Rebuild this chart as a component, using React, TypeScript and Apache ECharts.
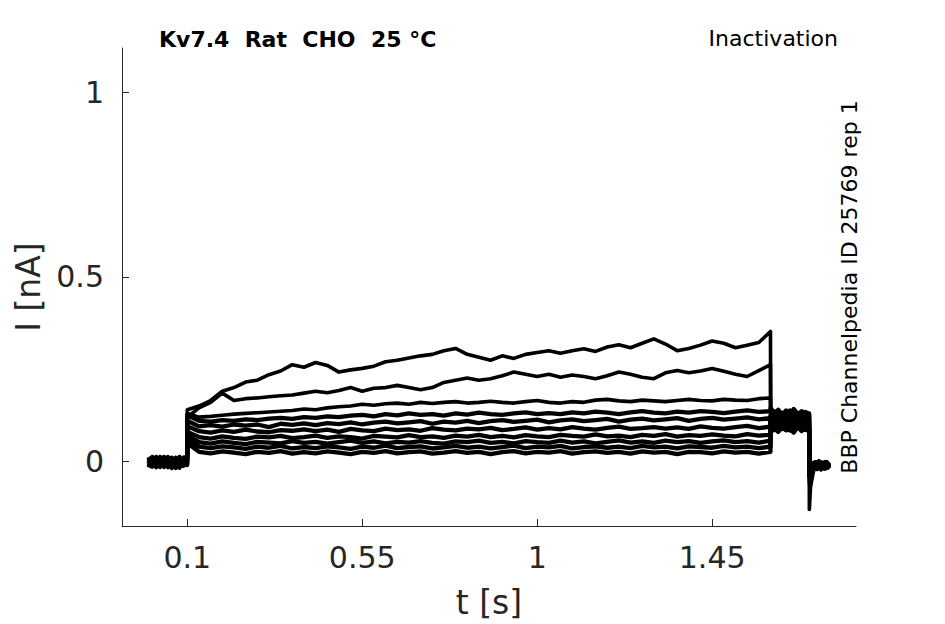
import React, { useEffect, useRef } from "react";
import * as echarts from "echarts";

// time samples (s)
const tPre = [0, 0.01, 0.02, 0.03, 0.04, 0.05, 0.06, 0.07, 0.08, 0.09, 0.0995];
const tPulse = [0.1, 0.13, 0.16, 0.19, 0.22, 0.25, 0.28, 0.31, 0.34, 0.37, 0.4, 0.43, 0.46, 0.49, 0.52, 0.55, 0.58, 0.61, 0.64, 0.67, 0.7, 0.73, 0.76, 0.79, 0.82, 0.85, 0.88, 0.91, 0.94, 0.97, 1, 1.03, 1.06, 1.09, 1.12, 1.15, 1.18, 1.21, 1.24, 1.27, 1.3, 1.33, 1.36, 1.39, 1.42, 1.45, 1.48, 1.51, 1.54, 1.57, 1.6];
const tTail = [1.6005, 1.61, 1.62, 1.63, 1.64, 1.65, 1.66, 1.67, 1.68, 1.69, 1.6995];
const tPost = [1.7, 1.703, 1.71, 1.715, 1.72, 1.725, 1.73, 1.735, 1.74, 1.745, 1.752];

// current (nA) per sweep
const preA = [-0.004, 0.008, -0.012, 0.004, -0.008, 0.01, -0.014, 0.002, -0.006, 0.008, 0.004];
const preB = [0.006, -0.01, 0.004, -0.016, 0.008, -0.004, 0.01, -0.012, 0.006, -0.008, -0.002];
const preC = [-0.012, 0.004, -0.008, 0.01, -0.016, 0.002, -0.006, 0.008, -0.018, 0.004, 0.008];
const preD = [0.01, -0.006, 0.012, -0.01, 0.002, -0.014, 0.006, -0.004, 0.01, -0.012, 0.01];
const preE = [-0.008, 0.012, -0.004, 0.006, -0.012, 0.008, -0.018, 0.004, -0.008, 0.006, -0.01];
const preF = [0.004, -0.014, 0.008, -0.002, 0.01, -0.016, 0.002, -0.008, 0.012, -0.006, 0.002];
const preG = [-0.016, 0.002, -0.01, 0.012, -0.004, 0.006, -0.012, 0.01, -0.014, 0.002, 0.006];
const preH = [0.012, -0.008, 0.002, -0.014, 0.006, -0.002, 0.01, -0.018, 0.004, -0.01, -0.008];
const preI = [-0.002, 0.01, -0.016, 0.004, -0.008, 0.012, -0.006, 0.002, -0.016, 0.01, 0.012];
const preJ = [-0.014, 0.002, 0.006, -0.01, 0.012, -0.006, 0.004, -0.014, 0.008, -0.004, -0.004];

const pulseA = [0.14, 0.15, 0.165, 0.19, 0.2, 0.215, 0.22, 0.235, 0.245, 0.262, 0.255, 0.268, 0.26, 0.242, 0.248, 0.252, 0.258, 0.27, 0.274, 0.28, 0.286, 0.29, 0.3, 0.306, 0.29, 0.282, 0.274, 0.286, 0.279, 0.29, 0.295, 0.3, 0.293, 0.3, 0.305, 0.298, 0.31, 0.316, 0.308, 0.32, 0.332, 0.318, 0.3, 0.306, 0.315, 0.326, 0.32, 0.308, 0.315, 0.322, 0.352];
const pulseB = [0.12, 0.145, 0.16, 0.185, 0.165, 0.17, 0.172, 0.175, 0.178, 0.18, 0.185, 0.19, 0.186, 0.192, 0.2, 0.19, 0.198, 0.2, 0.206, 0.2, 0.194, 0.2, 0.214, 0.22, 0.226, 0.22, 0.224, 0.232, 0.242, 0.236, 0.23, 0.236, 0.228, 0.234, 0.23, 0.224, 0.232, 0.242, 0.236, 0.228, 0.224, 0.24, 0.246, 0.24, 0.245, 0.252, 0.244, 0.236, 0.23, 0.246, 0.262];
const pulseC = [0.13, 0.12, 0.122, 0.125, 0.128, 0.13, 0.132, 0.134, 0.136, 0.138, 0.142, 0.14, 0.145, 0.148, 0.15, 0.155, 0.152, 0.156, 0.158, 0.155, 0.16, 0.157, 0.16, 0.162, 0.158, 0.16, 0.163, 0.16, 0.158, 0.162, 0.165, 0.16, 0.158, 0.162, 0.16, 0.166, 0.168, 0.164, 0.162, 0.166, 0.164, 0.162, 0.165, 0.168, 0.165, 0.164, 0.168, 0.166, 0.165, 0.17, 0.172];
const pulseD = [0.125, 0.11, 0.108, 0.112, 0.11, 0.114, 0.112, 0.116, 0.118, 0.115, 0.12, 0.118, 0.122, 0.12, 0.124, 0.126, 0.122, 0.128, 0.125, 0.13, 0.126, 0.128, 0.124, 0.13, 0.127, 0.132, 0.128, 0.126, 0.13, 0.133, 0.128, 0.131, 0.128, 0.133, 0.13, 0.135, 0.132, 0.128, 0.133, 0.136, 0.132, 0.13, 0.135, 0.132, 0.136, 0.134, 0.131, 0.135, 0.138, 0.134, 0.136];
const pulseE = [0.11, 0.095, 0.098, 0.094, 0.1, 0.097, 0.1, 0.093, 0.102, 0.099, 0.103, 0.098, 0.104, 0.101, 0.106, 0.1, 0.105, 0.108, 0.103, 0.106, 0.109, 0.102, 0.108, 0.105, 0.11, 0.104, 0.109, 0.112, 0.107, 0.11, 0.113, 0.106, 0.111, 0.114, 0.109, 0.112, 0.115, 0.108, 0.113, 0.116, 0.111, 0.114, 0.117, 0.11, 0.115, 0.118, 0.113, 0.116, 0.119, 0.114, 0.117];
const pulseF = [0.095, 0.082, 0.078, 0.084, 0.08, 0.086, 0.081, 0.079, 0.085, 0.083, 0.087, 0.082, 0.086, 0.08, 0.088, 0.084, 0.082, 0.089, 0.085, 0.087, 0.083, 0.09, 0.086, 0.084, 0.089, 0.087, 0.091, 0.085, 0.088, 0.092, 0.086, 0.09, 0.087, 0.093, 0.089, 0.086, 0.091, 0.094, 0.088, 0.09, 0.093, 0.089, 0.092, 0.088, 0.095, 0.091, 0.089, 0.093, 0.096, 0.09, 0.094];
const pulseG = [0.08, 0.066, 0.062, 0.068, 0.064, 0.061, 0.067, 0.065, 0.069, 0.063, 0.066, 0.07, 0.064, 0.068, 0.066, 0.062, 0.069, 0.067, 0.065, 0.071, 0.066, 0.068, 0.064, 0.07, 0.067, 0.072, 0.066, 0.069, 0.065, 0.071, 0.068, 0.066, 0.072, 0.069, 0.067, 0.073, 0.068, 0.07, 0.066, 0.072, 0.069, 0.074, 0.067, 0.071, 0.069, 0.073, 0.07, 0.068, 0.074, 0.07, 0.072];
const pulseH = [0.07, 0.052, 0.048, 0.054, 0.05, 0.047, 0.053, 0.051, 0.049, 0.055, 0.05, 0.053, 0.048, 0.052, 0.056, 0.05, 0.054, 0.049, 0.053, 0.051, 0.055, 0.05, 0.048, 0.054, 0.052, 0.056, 0.05, 0.053, 0.049, 0.055, 0.052, 0.05, 0.056, 0.051, 0.054, 0.049, 0.053, 0.057, 0.051, 0.054, 0.05, 0.056, 0.052, 0.055, 0.05, 0.054, 0.057, 0.052, 0.055, 0.051, 0.056];
const pulseI = [0.06, 0.04, 0.036, 0.041, 0.038, 0.034, 0.04, 0.037, 0.042, 0.035, 0.039, 0.036, 0.041, 0.038, 0.034, 0.04, 0.037, 0.043, 0.036, 0.039, 0.041, 0.035, 0.038, 0.042, 0.037, 0.04, 0.035, 0.039, 0.043, 0.036, 0.04, 0.038, 0.042, 0.035, 0.039, 0.041, 0.037, 0.04, 0.036, 0.042, 0.038, 0.04, 0.035, 0.041, 0.039, 0.037, 0.042, 0.038, 0.04, 0.036, 0.04];
const pulseJ = [0.05, 0.026, 0.022, 0.027, 0.024, 0.02, 0.026, 0.023, 0.028, 0.021, 0.025, 0.022, 0.027, 0.024, 0.02, 0.026, 0.023, 0.028, 0.022, 0.025, 0.027, 0.021, 0.024, 0.028, 0.023, 0.026, 0.02, 0.025, 0.028, 0.022, 0.026, 0.024, 0.028, 0.021, 0.025, 0.027, 0.023, 0.026, 0.021, 0.027, 0.024, 0.026, 0.02, 0.026, 0.025, 0.022, 0.027, 0.024, 0.026, 0.021, 0.026];

const tailA = [0.11, 0.125, 0.1, 0.12, 0.108, 0.128, 0.104, 0.118, 0.11, 0.124, 0.112];
const tailB = [0.14, 0.12, 0.135, 0.115, 0.13, 0.118, 0.136, 0.12, 0.132, 0.116, 0.128];
const tailC = [0.1, 0.09, 0.108, 0.094, 0.112, 0.096, 0.106, 0.09, 0.11, 0.098, 0.104];
const tailD = [0.145, 0.13, 0.14, 0.126, 0.138, 0.13, 0.142, 0.128, 0.136, 0.132, 0.13];
const tailE = [0.085, 0.098, 0.082, 0.1, 0.088, 0.096, 0.084, 0.102, 0.09, 0.094, 0.086];
const tailF = [0.115, 0.105, 0.12, 0.108, 0.118, 0.104, 0.116, 0.11, 0.122, 0.106, 0.114];
const tailG = [0.078, 0.09, 0.08, 0.092, 0.084, 0.088, 0.078, 0.094, 0.082, 0.09, 0.08];
const tailH = [0.105, 0.118, 0.1, 0.114, 0.098, 0.12, 0.102, 0.112, 0.1, 0.116, 0.104];
const tailI = [0.095, 0.085, 0.1, 0.088, 0.098, 0.084, 0.096, 0.09, 0.1, 0.086, 0.094];
const tailJ = [0.125, 0.135, 0.118, 0.132, 0.122, 0.138, 0.12, 0.13, 0.124, 0.134, 0.126];

const postA = [-0.13, -0.07, -0.03, -0.012, -0.022, -0.006, -0.018, -0.004, -0.016, -0.008, -0.012];
const postB = [-0.06, -0.04, -0.02, -0.004, -0.016, 0.002, -0.012, -0.02, -0.006, -0.014, -0.004];
const postC = [-0.045, -0.03, -0.01, -0.02, -0.004, -0.016, -0.002, -0.012, -0.018, -0.006, -0.014];
const postD = [-0.035, -0.02, -0.016, -0.006, -0.02, -0.01, -0.022, -0.008, -0.002, -0.016, -0.006];
const postE = [-0.04, -0.025, -0.006, -0.018, -0.01, -0.002, -0.014, -0.006, -0.02, -0.01, -0.016];
const postF = [-0.03, -0.015, -0.02, -0.004, -0.012, -0.018, -0.006, -0.016, -0.008, -0.002, -0.01];
const postG = [-0.035, -0.02, -0.01, -0.014, -0.002, -0.012, -0.02, -0.004, -0.014, -0.018, -0.008];
const postH = [-0.025, -0.012, -0.018, -0.008, -0.016, -0.004, -0.01, -0.018, -0.006, -0.012, -0.02];
const postI = [-0.03, -0.018, -0.004, -0.016, -0.008, -0.014, -0.002, -0.01, -0.016, -0.004, -0.012];
const postJ = [-0.028, -0.014, -0.012, -0.002, -0.018, -0.006, -0.014, -0.01, -0.004, -0.016, -0.008];

const sweeps = [
  [preA, pulseA, tailA, postA],
  [preB, pulseB, tailB, postB],
  [preC, pulseC, tailC, postC],
  [preD, pulseD, tailD, postD],
  [preE, pulseE, tailE, postE],
  [preF, pulseF, tailF, postF],
  [preG, pulseG, tailG, postG],
  [preH, pulseH, tailH, postH],
  [preI, pulseI, tailI, postI],
  [preJ, pulseJ, tailJ, postJ],
];

const xTicks = [0.1, 0.55, 1, 1.45];
const yTicks = [0, 0.5, 1];

const FONT = "DejaVu Sans";
const AX = "#262626";

function buildSeries() {
  const times = [tPre, tPulse, tTail, tPost];
  return sweeps.map((parts, k) => {
    const data: number[][] = [];
    parts.forEach((vals, p) => {
      vals.forEach((v, i) => data.push([times[p][i], v]));
    });
    return {
      type: "line",
      name: "sweep" + (k + 1),
      data,
      showSymbol: false,
      symbol: "none",
      lineStyle: { color: "#000", width: k < 3 ? 3.6 : 4.3, join: "round" },
      silent: true,
    };
  });
}

export default function App() {
  const ref = useRef<HTMLDivElement>(null);
  useEffect(() => {
    if (!ref.current) return;
    const chart = echarts.init(ref.current, null, { renderer: "svg" });
    chart.setOption({
      animation: false,
      backgroundColor: "#fff",
      grid: { left: 122, top: 48, width: 734, height: 478, containLabel: false },
      xAxis: {
        type: "value",
        min: -0.068,
        max: 1.82,
        axisLine: { show: true, onZero: false, lineStyle: { color: AX, width: 1 } },
        axisTick: { show: true, inside: true, length: 7, customValues: xTicks, lineStyle: { color: AX } },
        axisLabel: { customValues: xTicks, fontSize: 30, color: AX, fontFamily: FONT, margin: 16 },
        splitLine: { show: false },
        name: "t [s]",
        nameLocation: "middle",
        nameGap: 60,
        nameTextStyle: { fontSize: 33, color: AX, fontFamily: FONT },
      },
      yAxis: {
        type: "value",
        min: -0.175,
        max: 1.12,
        axisLine: { show: true, onZero: false, lineStyle: { color: AX, width: 1 } },
        axisTick: { show: true, inside: true, length: 7, customValues: yTicks, lineStyle: { color: AX } },
        axisLabel: { customValues: yTicks, fontSize: 30, color: AX, fontFamily: FONT, margin: 18 },
        splitLine: { show: false },
        name: "I [nA]",
        nameLocation: "middle",
        nameGap: 72,
        nameTextStyle: { fontSize: 33, color: AX, fontFamily: FONT },
      },
      graphic: [
        {
          type: "text",
          x: 159,
          y: 39,
          style: { text: "Kv7.4  Rat  CHO  25 °C", font: `bold 22px "${FONT}"`, fill: "#000", textAlign: "left", textVerticalAlign: "middle" },
        },
        {
          type: "text",
          x: 838,
          y: 38,
          style: { text: "Inactivation", font: `22px "${FONT}"`, fill: "#000", textAlign: "right", textVerticalAlign: "middle" },
        },
        {
          type: "text",
          x: 849,
          y: 287,
          rotation: Math.PI / 2,
          style: { text: "BBP Channelpedia ID 25769 rep 1", font: `22px "${FONT}"`, fill: "#000", textAlign: "center", textVerticalAlign: "middle" },
        },
      ],
      series: buildSeries(),
    });
    return () => chart.dispose();
  }, []);
  return <div ref={ref} style={{ width: 945, height: 624, position: "absolute", left: 0, top: 0 }} />;
}
